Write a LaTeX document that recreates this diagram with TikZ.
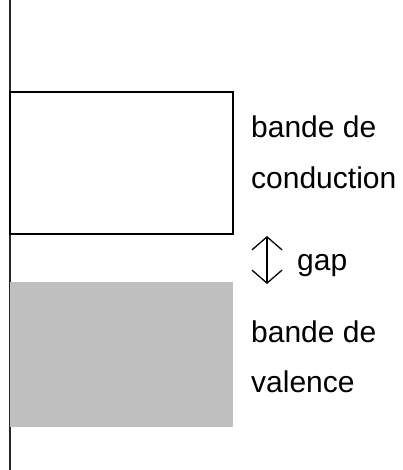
\documentclass[tikz,border=0pt]{standalone}
\usepackage{fontspec}
\setmainfont{Liberation Sans}
\usetikzlibrary{arrows.meta}
\begin{document}
\begin{tikzpicture}[x=1pt,y=-1pt,
  axis/.style={line width=2pt,draw=black!85},
  band/.style={minimum width=223pt,inner sep=0pt,outer sep=0pt},
  label/.style={anchor=base west,inner sep=0pt,align=left,
    font=\fontsize{30}{50}\selectfont},
  gaparrow/.style={line width=1.3pt,
    {Straight Barb[length=13pt,width=30pt]}-{Straight Barb[length=13pt,width=30pt]}}]
  \useasboundingbox (0,0) rectangle (402,470);
  % energy axis
  \coordinate (axtop) at (10,0);
  \coordinate (axbot) at (10,470);
  \draw[axis] (axtop) -- (axbot);
  % conduction band (empty) and valence band (filled)
  \node[band,draw=black,line width=2pt,fill=white,minimum height=142pt] (cb) at (121.5,163) {};
  \node[band,fill=black!25,minimum height=145pt] (vb) at (121.5,354.5) {};
  % band gap
  \coordinate (gtop) at (267,236);
  \coordinate (gbot) at (267,284);
  \draw[gaparrow] (gtop) -- (gbot);
  % labels (base anchor sits on the last line)
  \node[label] (cblabel) at (251,188) {bande de\\conduction};
  \node[label] (gaplabel) at (297,270) {gap};
  \node[label] (vblabel) at (251,392) {bande de\\valence};
\end{tikzpicture}
\end{document}
